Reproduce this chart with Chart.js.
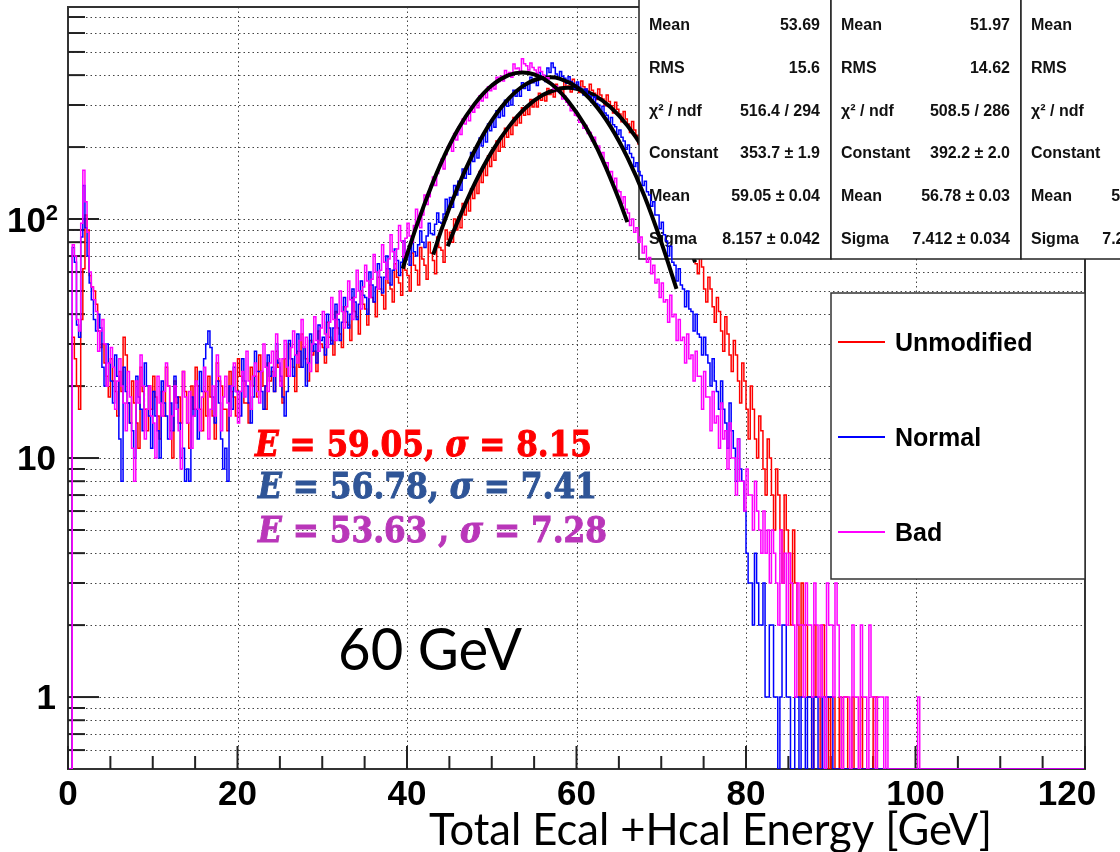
<!DOCTYPE html>
<html>
<head>
<meta charset="utf-8">
<title>Total Ecal + Hcal Energy, 60 GeV</title>
<script src="https://cdn.jsdelivr.net/npm/chart.js@4.4.1/dist/chart.umd.min.js"></script>
<style>
  html, body { margin: 0; padding: 0; background: #fff; overflow: hidden; }
  canvas { display: block; }
</style>
</head>
<body>
<canvas id="energyChart" width="1120" height="852"></canvas>
<script>
// Histogram bins are 0.25 GeV wide, from 0 to 120 GeV (480 bins, 20 per row = 5 GeV)
const binWidth = 0.25;

const unmodified = [
  0, 0, 32, 26, 20, 16, 38, 62, 104, 90, 58, 52, 50, 44, 34, 29, 30, 25, 22, 18,            // 0 GeV
  26, 21, 19, 15, 23, 19, 32, 27, 17, 14, 21, 17, 14, 11, 24, 19, 16, 13, 20, 16,           // 5
  22, 18, 15, 12, 19, 15, 24, 20, 13, 10, 21, 17, 18, 14, 23, 19, 14, 11, 20, 16,           // 10
  24, 20, 16, 13, 19, 15, 22, 18, 15, 12, 25, 21, 20, 16, 16, 13, 23, 19, 18, 15,           // 15
  26, 22, 21, 17, 17, 14, 24, 20, 22, 18, 27, 23, 20, 16, 25, 21, 23, 19, 28, 24,           // 20
  21, 17, 26, 22, 30, 26, 24, 19, 28, 24, 33, 29, 26, 21, 31, 27, 28, 23, 34, 30,           // 25
  29, 25, 37, 32, 31, 27, 41, 35, 33, 29, 43, 37, 36, 31, 47, 41, 39, 33, 50, 44,           // 30
  42, 36, 53, 47, 45, 39, 57, 51, 48, 42, 62, 54, 51, 45, 65, 57, 54, 48, 69, 61,           // 35
  58, 50, 72, 64, 61, 53, 76, 68, 64, 56, 80, 72, 67, 59, 84, 76, 74, 66, 90, 82,           // 40
  88, 80, 100, 90, 102, 92, 116, 104, 120, 108, 134, 122, 142, 128, 158, 142, 168, 152, 184, 166, // 45
  194, 176, 212, 192, 220, 200, 240, 220, 246, 226, 266, 246, 272, 252, 292, 272, 296, 274, 316, 294, // 50
  316, 294, 336, 314, 332, 312, 352, 332, 346, 324, 366, 344, 356, 334, 380, 356, 360, 340, 384, 360, // 55
  358, 338, 378, 358, 350, 330, 366, 346, 336, 316, 350, 330, 318, 298, 330, 310, 298, 278, 308, 288, // 60
  275, 255, 282, 262, 250, 230, 256, 236, 224, 206, 230, 210, 198, 182, 202, 186, 172, 158, 176, 160, // 65
  148, 136, 146, 134, 121, 111, 125, 115, 100, 92, 104, 96, 82, 74, 86, 78, 65, 59, 69, 63,  // 70
  51, 45, 57, 51, 43, 37, 47, 41, 34, 28, 39, 33, 27, 23, 31, 27, 21, 17, 25, 21,           // 75
  16, 12, 20, 16, 12, 10, 15, 13, 9, 7, 12, 10, 7, 5, 9, 7, 5, 3, 7, 5,                     // 80
  4, 2, 5, 3, 2, 1, 3, 2, 2, 1, 1, 0, 2, 1, 1, 0, 2, 1, 1, 0,                               // 85
  1, 1, 0, 0, 1, 0, 1, 1, 0, 0, 1, 0, 0, 0, 1, 0, 0, 0, 0, 0,                               // 90
  1, 1, 0, 0, 0, 0, 0, 0, 0, 0, 0, 0, 0, 0, 0, 0, 0, 0, 0, 0,                               // 95
  0, 0, 0, 0, 0, 0, 0, 0, 0, 0, 0, 0, 0, 0, 0, 0, 0, 0, 0, 0,                               // 100
  0, 0, 0, 0, 0, 0, 0, 0, 0, 0, 0, 0, 0, 0, 0, 0, 0, 0, 0, 0,                               // 105
  0, 0, 0, 0, 0, 0, 0, 0, 0, 0, 0, 0, 0, 0, 0, 0, 0, 0, 0, 0,                               // 110
  0, 0, 0, 0, 0, 0, 0, 0, 0, 0, 0, 0, 0, 0, 0, 0, 0, 0, 0, 0                                // 115
];

const normal = [
  0, 0, 76, 66, 36, 32, 84, 138, 92, 70, 54, 46, 38, 34, 40, 35, 24, 20, 30, 25,
  21, 17, 27, 22, 12, 8, 24, 19, 17, 14, 13, 10, 22, 18, 16, 13, 25, 20, 15, 11,
  19, 15, 13, 10, 21, 17, 15, 12, 17, 13, 22, 18, 14, 10, 11, 8, 9, 8, 18, 15,
  16, 12, 23, 19, 26, 30, 34, 29, 18, 14, 21, 17, 12, 9, 11, 8, 20, 16, 24, 19,
  19, 15, 26, 21, 20, 17, 14, 18, 28, 23, 23, 19, 16, 20, 27, 22, 24, 19, 30, 25,
  22, 18, 15, 19, 31, 26, 22, 27, 33, 28, 24, 29, 20, 25, 33, 28, 30, 25, 36, 31,
  32, 27, 40, 35, 30, 35, 44, 38, 31, 37, 47, 41, 35, 40, 51, 45, 38, 44, 55, 48,
  47, 40, 60, 53, 45, 52, 65, 57, 49, 57, 70, 62, 53, 61, 75, 67, 58, 66, 81, 72,
  72, 64, 82, 73, 70, 78, 89, 80, 76, 85, 96, 87, 86, 95, 106, 97, 96, 105, 121, 110,
  123, 112, 138, 126, 144, 132, 162, 148, 166, 154, 190, 174, 196, 180, 218, 202, 226, 210, 250, 234,
  258, 242, 284, 266, 290, 270, 314, 296, 320, 300, 346, 326, 344, 326, 372, 352, 364, 346, 392, 372,
  380, 362, 410, 390, 394, 376, 428, 410, 450, 430, 404, 386, 414, 396, 388, 370, 394, 376, 370, 352,
  374, 356, 348, 330, 350, 332, 326, 308, 324, 304, 300, 282, 296, 278, 272, 254, 266, 248, 243, 226,
  236, 220, 212, 196, 204, 188, 181, 166, 172, 158, 152, 138, 144, 130, 126, 113, 118, 104, 104, 91,
  97, 86, 81, 70, 77, 66, 64, 55, 62, 53, 51, 43, 50, 42, 41, 34, 40, 33, 32, 27,
  32, 27, 25, 20, 26, 21, 19, 16, 21, 16, 14, 11, 17, 13, 11, 8, 12, 9, 8, 6,
  4, 3, 3, 2, 4, 3, 2, 2, 3, 1, 1, 2, 2, 1, 1, 0, 1, 2, 2, 1,
  1, 0, 0, 1, 1, 0, 1, 1, 0, 1, 1, 0, 1, 1, 0, 0, 1, 0, 1, 1,
  1, 0, 0, 0, 0, 0, 0, 0, 0, 0, 0, 0, 0, 0, 0, 0, 0, 0, 0, 0,
  0, 0, 0, 0, 0, 0, 0, 0, 0, 0, 0, 0, 0, 0, 0, 0, 0, 0, 0, 0,
  0, 0, 0, 0, 0, 0, 0, 0, 0, 0, 0, 0, 0, 0, 0, 0, 0, 0, 0, 0,
  0, 0, 0, 0, 0, 0, 0, 0, 0, 0, 0, 0, 0, 0, 0, 0, 0, 0, 0, 0,
  0, 0, 0, 0, 0, 0, 0, 0, 0, 0, 0, 0, 0, 0, 0, 0, 0, 0, 0, 0,
  0, 0, 0, 0, 0, 0, 0, 0, 0, 0, 0, 0, 0, 0, 0, 0, 0, 0, 0, 0
];

const bad = [
  0, 0, 78, 70, 38, 34, 96, 160, 118, 88, 60, 52, 46, 41, 28, 34, 38, 30, 20, 25,
  29, 24, 16, 21, 26, 20, 17, 13, 23, 18, 11, 8, 21, 17, 27, 20, 12, 16, 20, 15,
  14, 10, 22, 17, 15, 19, 25, 20, 12, 15, 20, 16, 13, 9, 23, 18, 14, 19, 11, 15,
  21, 16, 13, 18, 24, 19, 12, 16, 20, 15, 27, 22, 13, 18, 22, 17, 15, 20, 25, 19,
  14, 19, 23, 18, 28, 21, 16, 22, 25, 19, 17, 23, 30, 24, 19, 25, 28, 22, 33, 26,
  20, 26, 31, 24, 22, 29, 34, 27, 25, 31, 38, 29, 32, 25, 23, 30, 39, 31, 28, 35,
  41, 33, 29, 37, 47, 38, 31, 40, 50, 41, 35, 43, 55, 46, 38, 47, 61, 50, 42, 52,
  64, 55, 47, 56, 71, 60, 51, 61, 78, 66, 56, 68, 86, 73, 62, 75, 94, 81, 69, 83,
  96, 85, 80, 94, 110, 98, 92, 104, 126, 115, 124, 138, 150, 138, 155, 168, 178, 162, 186, 200,
  206, 192, 228, 214, 242, 226, 262, 250, 270, 258, 296, 280, 306, 292, 328, 312, 336, 322, 358, 344,
  366, 350, 392, 376, 396, 378, 418, 400, 410, 392, 445, 425, 428, 410, 468, 446, 438, 420, 450, 430,
  420, 402, 432, 414, 400, 382, 390, 372, 368, 350, 360, 342, 336, 318, 326, 308, 300, 284, 290, 272,
  270, 254, 258, 240, 246, 228, 230, 212, 220, 202, 202, 186, 190, 172, 172, 156, 158, 142, 148, 132,
  130, 116, 124, 110, 106, 94, 100, 88, 92, 80, 84, 72, 77, 66, 69, 59, 64, 54, 56, 47,
  54, 45, 46, 37, 48, 39, 40, 31, 38, 31, 32, 25, 33, 26, 27, 21, 28, 22, 22, 16,
  23, 18, 18, 13, 19, 14, 15, 11, 17, 12, 13, 9, 14, 10, 10, 7, 12, 8, 8, 6,
  9, 7, 7, 5, 8, 6, 5, 4, 6, 4, 5, 3, 5, 4, 3, 2, 5, 3, 4, 2,
  4, 3, 2, 1, 3, 2, 2, 1, 3, 2, 2, 1, 3, 2, 1, 2, 1, 0, 3, 2,
  2, 1, 3, 2, 1, 0, 1, 1, 1, 0, 2, 1, 1, 0, 2, 1, 1, 0, 2, 1,
  1, 0, 1, 1, 1, 0, 1, 0, 0, 0, 0, 0, 0, 0, 0, 0, 0, 0, 0, 0,
  0, 1, 0, 0, 0, 0, 0, 0, 0, 0, 0, 0, 0, 0, 0, 0, 0, 0, 0, 0,
  0, 0, 0, 0, 0, 0, 0, 0, 0, 0, 0, 0, 0, 0, 0, 0, 0, 0, 0, 0,
  0, 0, 0, 0, 0, 0, 0, 0, 0, 0, 0, 0, 0, 0, 0, 0, 0, 0, 0, 0,
  0, 0, 0, 0, 0, 0, 0, 0, 0, 0, 0, 0, 0, 0, 0, 0, 0, 0, 0, 0
];

// Gaussian fit curves
const fitUnmodX = [44.8, 46, 48, 50, 52, 54, 56, 58, 59, 60, 62, 64, 66, 68, 70, 72, 74];
const fitUnmodY = [77, 98, 141, 191, 243, 292, 330, 351, 354, 351, 331, 294, 246, 194, 144, 100, 66];
const fitNormX = [43.1, 44, 46, 48, 50, 52, 54, 56, 57, 58, 60, 62, 64, 66, 68, 70, 71.8];
const fitNormY = [71, 89, 136, 194, 258, 319, 366, 390, 392, 387, 357, 306, 244, 181, 125, 80, 51];
const fitBadX = [39.5, 40, 42, 44, 46, 48, 50, 52, 53.6, 55, 57, 59, 61, 63, 65, 66];
const fitBadY = [62, 71, 114, 171, 237, 304, 362, 400, 410, 403, 368, 312, 246, 179, 121, 97];

// axis ranges and ticks
const xMin = 0, xMax = 120;
const yMin = 0.5, yMax = 771;
const xMajorTicks = [0, 20, 40, 60, 80, 100, 120];
const xMinorTicks = [5, 10, 15, 25, 30, 35, 45, 50, 55, 65, 70, 75, 85, 90, 95, 105, 110, 115];
const yMajorTicks = [1, 10, 100];
const yMajorLabels = ['1', '10', '10'];
const yMajorExp = ['', '', '2'];
const yMinorTicks = [0.6, 0.7, 0.8, 0.9, 2, 3, 4, 5, 6, 7, 8, 9,
  20, 30, 40, 50, 60, 70, 80, 90, 200, 300, 400, 500, 600, 700];

// stats boxes and legend
const statLabels = ['Mean', 'RMS', 'χ² / ndf', 'Constant', 'Mean', 'Sigma'];
const statUnmod = ['53.69', '15.6', '516.4 / 294', '353.7 ± 1.9', '59.05 ± 0.04', '8.157 ± 0.042'];
const statNorm = ['51.97', '14.62', '508.5 / 286', '392.2 ± 2.0', '56.78 ± 0.03', '7.412 ± 0.034'];
const statBad = ['49.78', '14.43', '462.1 / 275', '410.3 ± 2.1', '53.63 ± 0.03', '7.281 ± 0.033'];
const seriesNames = ['Unmodified', 'Normal', 'Bad'];
const seriesColors = ['#ff0000', '#0000ff', '#ff00ff'];
const fitMeans = ['59.05', '56.78', '53.63 '];
const fitSigmas = ['8.15', '7.41', '7.28'];
const noteColors = ['#ff0000', '#2f5597', '#b936b9'];

const ROOT_FONT = '"Liberation Sans", Arial, Helvetica, sans-serif';

// empty bins sit on the floor of the log axis, as ROOT draws them
function toPoints(values) {
  return values.map((v, i) => ({ x: i * binWidth + binWidth / 2, y: v > 0 ? v : yMin }));
}
function toCurve(xs, ys) {
  return xs.map((x, i) => ({ x: x, y: ys[i] }));
}

function line(ctx, x1, y1, x2, y2) {
  ctx.beginPath();
  ctx.moveTo(x1, y1);
  ctx.lineTo(x2, y2);
  ctx.stroke();
}

function drawStatsBox(ctx, left, width, values) {
  ctx.save();
  ctx.fillStyle = '#fff';
  ctx.fillRect(left, -2, width, 261);
  ctx.strokeStyle = '#222';
  ctx.lineWidth = 1.5;
  ctx.strokeRect(left, -2, width, 261);
  ctx.fillStyle = '#111';
  ctx.font = 'bold 16px ' + ROOT_FONT;
  statLabels.forEach((lab, i) => {
    const yb = 30 + i * 42.8;
    ctx.textAlign = 'left';
    ctx.fillText(lab, left + 10, yb);
    ctx.textAlign = 'right';
    ctx.fillText(values[i], left + width - 11, yb);
  });
  ctx.restore();
}

// "E = 59.05, σ = 8.15" in a bold math style, squeezed to the width seen in the picture
function drawFitNote(ctx, mean, sigma, x, baseline, width, color) {
  const parts = [['E', true], [' = ' + mean + ', ', false], ['σ', true], [' = ' + sigma, false]];
  const fontFor = it => (it ? 'italic ' : '') + 'bold 35px "DejaVu Serif", serif';
  let total = 0;
  parts.forEach(p => { ctx.font = fontFor(p[1]); total += ctx.measureText(p[0]).width; });
  ctx.save();
  ctx.translate(x, baseline);
  ctx.scale(width / total, 1);
  ctx.fillStyle = color;
  ctx.strokeStyle = color;
  ctx.lineWidth = 1;
  ctx.textAlign = 'left';
  let cx = 0;
  parts.forEach(p => {
    ctx.font = fontFor(p[1]);
    ctx.fillText(p[0], cx, 0);
    ctx.strokeText(p[0], cx, 0);
    cx += ctx.measureText(p[0]).width;
  });
  ctx.restore();
}

const rootStyle = {
  id: 'rootStyle',
  beforeDatasetsDraw(chart) {
    const { ctx, chartArea: a, scales: { x, y } } = chart;
    ctx.save();
    // dotted grid
    ctx.strokeStyle = '#444';
    ctx.lineWidth = 1;
    ctx.setLineDash([1.5, 3]);
    xMajorTicks.slice(1, -1).forEach(v => {
      const px = Math.round(x.getPixelForValue(v)) + 0.5;
      line(ctx, px, a.top, px, a.bottom);
    });
    yMajorTicks.concat(yMinorTicks).forEach(v => {
      const py = Math.round(y.getPixelForValue(v)) + 0.5;
      line(ctx, a.left, py, a.right, py);
    });
    ctx.setLineDash([]);
    // frame
    ctx.strokeStyle = '#333';
    ctx.lineWidth = 2;
    ctx.strokeRect(a.left, a.top, a.right - a.left, a.bottom - a.top);
    // ticks, drawn inwards
    ctx.strokeStyle = '#222';
    xMajorTicks.forEach(v => { const px = x.getPixelForValue(v); line(ctx, px, a.bottom, px, a.bottom - 23); });
    xMinorTicks.forEach(v => { const px = x.getPixelForValue(v); line(ctx, px, a.bottom, px, a.bottom - 13); });
    yMajorTicks.forEach(v => { const py = y.getPixelForValue(v); line(ctx, a.left, py, a.left + 31, py); });
    yMinorTicks.forEach(v => { const py = y.getPixelForValue(v); line(ctx, a.left, py, a.left + 17, py); });
    // tick labels
    ctx.fillStyle = '#000';
    ctx.font = 'bold 35px ' + ROOT_FONT;
    ctx.textAlign = 'center';
    xMajorTicks.forEach(v => {
      const px = Math.min(x.getPixelForValue(v), 1067);
      ctx.fillText(String(v), px, 805);
    });
    yMajorTicks.forEach((v, i) => {
      const py = y.getPixelForValue(v);
      ctx.textAlign = 'right';
      if (yMajorExp[i]) {
        ctx.font = 'bold 35px ' + ROOT_FONT;
        ctx.fillText(yMajorLabels[i], 46, py + 13);
        ctx.font = 'bold 22px ' + ROOT_FONT;
        ctx.fillText(yMajorExp[i], 58, py + 1);
      } else {
        ctx.font = 'bold 35px ' + ROOT_FONT;
        ctx.fillText(yMajorLabels[i], 56, py + 12);
      }
    });
    ctx.restore();
  },
  afterDatasetDraw(chart, args) {
    // ROOT paints each stats box right after its histogram and fit
    const ds = chart.data.datasets[args.index];
    const ctx = chart.ctx;
    if (ds.statsBox === 0) drawStatsBox(ctx, 639, 192, statUnmod);
    if (ds.statsBox === 1) drawStatsBox(ctx, 831, 190, statNorm);
    if (ds.statsBox === 2) drawStatsBox(ctx, 1021, 190, statBad);
  },
  afterDatasetsDraw(chart) {
    const ctx = chart.ctx;
    ctx.save();
    // legend
    ctx.fillStyle = '#fff';
    ctx.fillRect(831, 293, 254, 286);
    ctx.strokeStyle = '#333';
    ctx.lineWidth = 1.5;
    ctx.strokeRect(831, 293, 254, 286);
    seriesNames.forEach((name, i) => {
      const yc = 342 + i * 95;
      ctx.strokeStyle = seriesColors[i];
      ctx.lineWidth = 2;
      line(ctx, 838, yc, 885, yc);
      ctx.fillStyle = '#000';
      ctx.font = 'bold 25px ' + ROOT_FONT;
      ctx.textAlign = 'left';
      ctx.fillText(name, 895, yc + 9);
    });
    // fit results
    const noteX = [255, 258, 258];
    const noteY = [456, 498, 542];
    const noteW = [337, 339, 349];
    fitMeans.forEach((m, i) => drawFitNote(ctx, m, fitSigmas[i], noteX[i], noteY[i], noteW[i], noteColors[i]));
    // beam energy and axis title
    ctx.fillStyle = '#000';
    ctx.textAlign = 'left';
    ctx.font = '58px Lato, "Open Sans", sans-serif';
    ctx.fillText('60 GeV', 338, 670, 184);
    ctx.font = '44px Lato, "Open Sans", sans-serif';
    ctx.fillText('Total Ecal +Hcal Energy [GeV]', 429, 845, 563);
    ctx.restore();
  }
};

const histStyle = color => ({
  borderColor: color,
  borderWidth: 1.5,
  stepped: 'middle',
  pointRadius: 0,
  fill: false
});
const fitStyle = {
  borderColor: '#000',
  borderWidth: 4,
  cubicInterpolationMode: 'monotone',
  pointRadius: 0,
  fill: false
};

const ctx = document.getElementById('energyChart').getContext('2d');
new Chart(ctx, {
  type: 'line',
  data: {
    datasets: [
      Object.assign({ label: 'Unmodified', data: toPoints(unmodified), order: 6 }, histStyle('#ff0000')),
      Object.assign({ label: 'Unmodified fit', data: toCurve(fitUnmodX, fitUnmodY), order: 5, statsBox: 0 }, fitStyle),
      Object.assign({ label: 'Normal', data: toPoints(normal), order: 4 }, histStyle('#0000ff')),
      Object.assign({ label: 'Normal fit', data: toCurve(fitNormX, fitNormY), order: 3, statsBox: 1 }, fitStyle),
      Object.assign({ label: 'Bad', data: toPoints(bad), order: 2 }, histStyle('#ff00ff')),
      Object.assign({ label: 'Bad fit', data: toCurve(fitBadX, fitBadY), order: 1, statsBox: 2 }, fitStyle)
    ]
  },
  options: {
    responsive: false,
    animation: false,
    layout: { padding: { left: 68, top: 7, right: 35, bottom: 83 } },
    scales: {
      x: { type: 'linear', min: xMin, max: xMax, display: false },
      y: { type: 'logarithmic', min: yMin, max: yMax, display: false }
    },
    plugins: {
      legend: { display: false },
      tooltip: { enabled: false }
    }
  },
  plugins: [rootStyle]
});
</script>
</body>
</html>
